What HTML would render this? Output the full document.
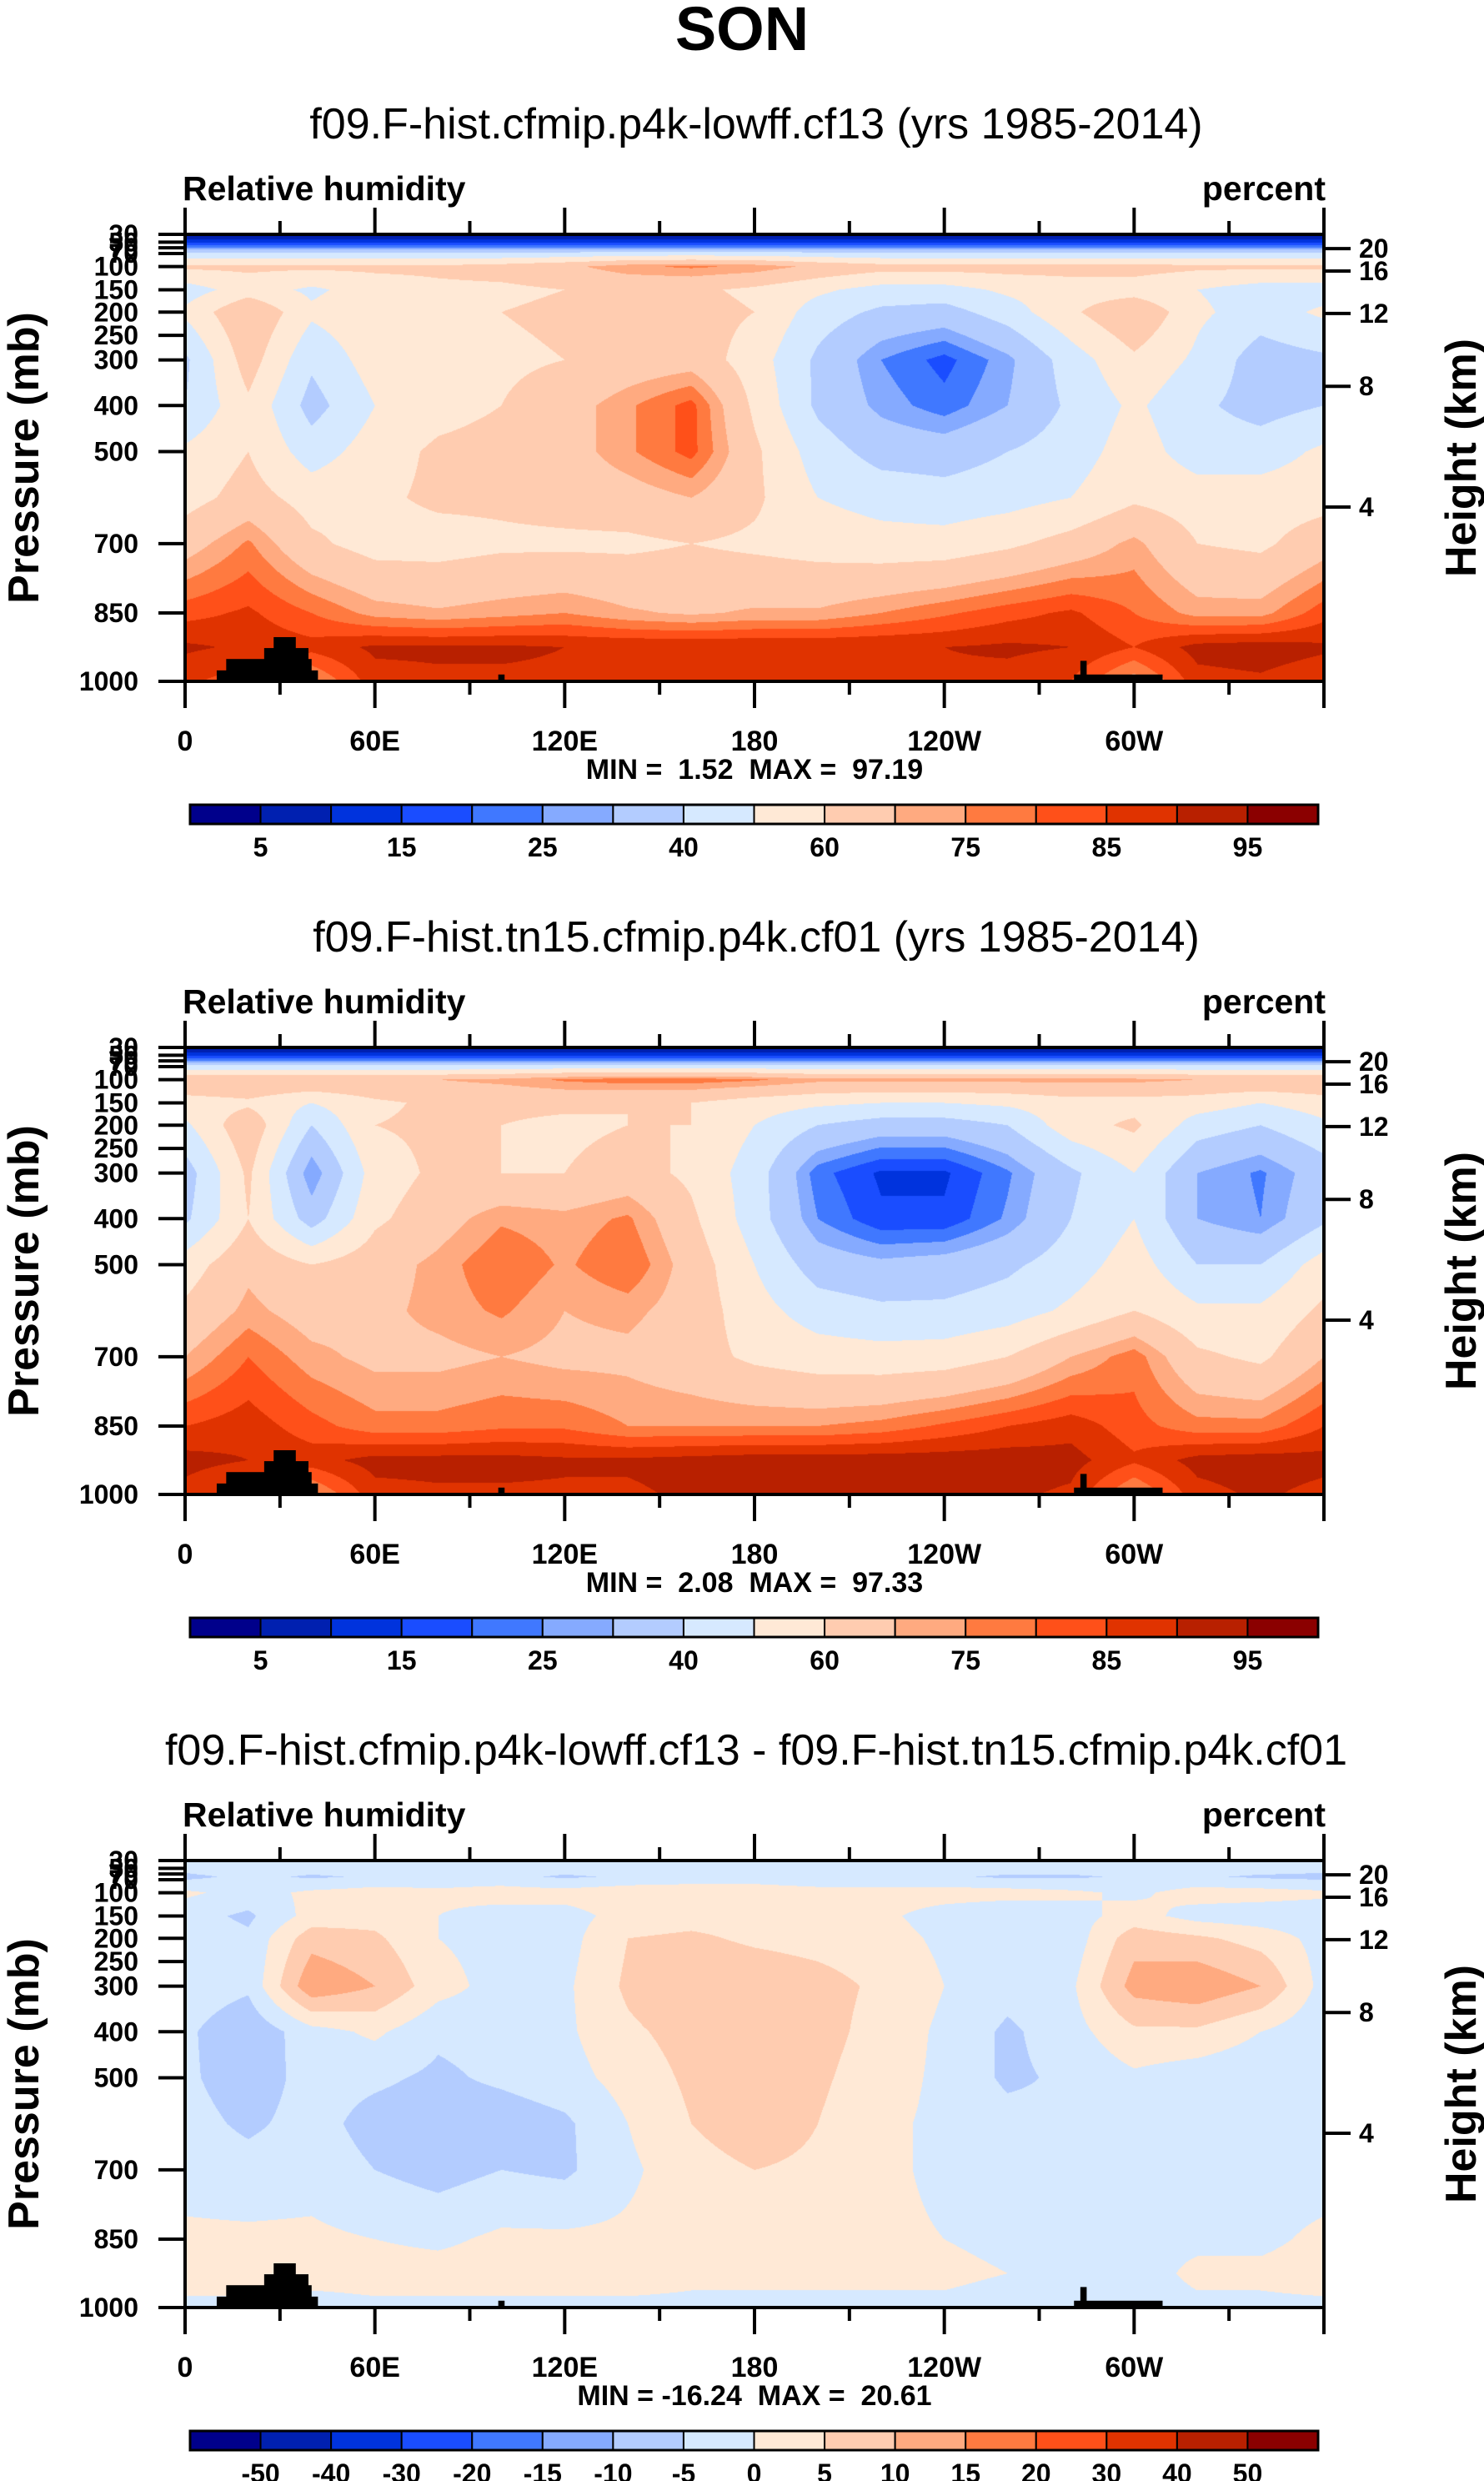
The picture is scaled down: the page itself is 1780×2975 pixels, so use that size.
<!DOCTYPE html>
<html><head><meta charset="utf-8">
<style>
body{margin:0;background:#fff;width:1780px;height:2975px;position:relative;overflow:hidden;font-family:"Liberation Sans",sans-serif;}
canvas{position:absolute;}
svg{position:absolute;left:0;top:0;}
text{white-space:pre;}
</style></head>
<body>
<canvas id="c1" width="1366" height="536" style="left:222px;top:281px"></canvas>
<canvas id="c2" width="1366" height="536" style="left:222px;top:1256px"></canvas>
<canvas id="c3" width="1366" height="536" style="left:222px;top:2231px"></canvas>
<svg id="ov" width="1780" height="2975"></svg>
<script>
const lons=[0,20,40,60,80,100,120,140,160,180,200,220,240,260,280,300,320,340,360];
const levels=[30,60,100,150,200,300,400,500,600,700,850,925,1000];
const rh1=[
[3,3,3,3,3,3,3,3,3,3,3,3,3,3,3,3,3,3,3],
[35,35,35,35,35,35,35,35,35,35,35,35,35,35,35,35,35,35,35],
[62,62,62,62,62,64,68,74,76,74,68,64,64,64,64,64,62,62,62],
[45,55,48,55,58,58,60,62,62,58,52,46,46,52,55,55,50,45,45],
[52,70,52,58,58,60,62,64,64,60,45,38,36,45,58,70,52,45,52],
[38,65,42,55,55,58,60,64,66,55,38,25,18,28,45,58,48,35,38],
[40,58,36,50,56,60,66,74,82,58,38,28,22,30,42,52,42,36,40],
[52,60,45,55,62,64,66,74,82,62,45,36,35,40,45,55,45,45,52],
[56,64,56,58,62,62,64,66,70,62,50,46,44,46,50,58,55,55,56],
[66,76,62,56,56,58,58,58,60,58,56,54,54,58,64,72,60,58,66],
[83,86,80,73,71,73,75,71,69,71,71,75,79,83,86,80,73,73,83],
[91,89,87,91,91,91,90,90,90,90,90,90,90,91,90,85,92,93,91],
[86,82,74,88,89,89,89,89,89,89,89,89,89,88,85,72,88,89,86]];
const rh2=[
[3,3,3,3,3,3,3,3,3,3,3,3,3,3,3,3,3,3,3],
[35,35,35,35,35,35,35,35,35,35,35,35,35,35,35,35,35,35,35],
[70,70,70,70,70,72,76,78,78,76,72,72,72,72,72,72,70,70,70],
[55,58,50,58,62,62,62,60,60,55,52,50,50,52,56,56,55,50,55],
[48,68,40,60,62,60,58,60,60,50,40,35,35,40,56,62,45,40,48],
[35,62,25,55,62,60,60,64,58,45,22,14,14,24,38,50,30,24,35],
[38,60,35,58,66,74,72,76,62,45,25,16,16,26,40,50,30,25,38],
[55,68,60,66,72,80,74,80,66,50,35,32,34,38,45,55,40,40,55],
[62,72,66,68,72,76,70,72,66,54,45,42,42,45,52,60,52,52,62],
[70,80,72,68,68,70,68,68,64,58,55,54,55,60,70,78,62,58,70],
[85,88,82,77,77,79,79,75,75,75,75,77,81,85,88,82,77,77,85],
[92,90,88,92,92,92,91,91,92,93,93,93,93,93,92,86,92,93,92],
[88,82,74,88,89,89,89,89,91,93,93,93,93,91,89,74,88,91,88]];
const rhDiff=[
[-2,-2,-2,-2,-2,-2,-2,-2,-2,-2,-2,-2,-2,-2,-2,-2,-2,-2,-2],
[-7,-3,-6,-4,-3,-3,-6,-4,-3,-3,-4,-4,-4,-6,-6,-4,-4,-6,-7],
[1,-2,1,2,1,2,2,3,3,3,2,2,2,2,1,-1,2,2,1],
[-3,-6,2,3,0,-2,-2,2,3,3,2,1,-2,-4,-2,2,-2,-3,-3],
[-2,-4,8,6,0,-2,-2,5,6,4,3,2,-1,-4,-3,8,6,3,-2],
[-2,-4,14,10,2,-2,-1,6,10,9,7,4,0,-3,-1,12,14,10,-2],
[-4,-9,-2,1,-4,-3,-1,4,7,10,7,3,-1,-6,-2,4,4,0,-4],
[-4,-8,-3,-4,-6,-4,-2,2,6,10,6,2,-1,-6,-4,-1,-3,-4,-4],
[-3,-6,-3,-7,-8,-8,-6,0,5,8,5,1,-1,-3,-4,-3,-3,-3,-3],
[-2,-3,-2,-5,-7,-5,-6,-1,3,5,4,1,-1,-2,-2,-2,-2,-2,-2],
[1,1,1,0,-1,1,1,1,2,2,2,1,0,-1,-1,-1,-1,-1,1],
[2,2,2,2,2,2,2,2,1,1,1,1,1,0,-1,-2,1,1,2],
[-1,-1,-2,-1,-1,-1,-1,-1,-1,-1,-1,-1,-1,-2,-4,-2,-1,-1,-1]];
const bounds1=[5,10,15,20,25,30,40,50,60,70,75,80,85,90,95];
const cbLabels1=["5","","15","","25","","40","","60","","75","","85","","95"];
const bounds3=[-50,-40,-30,-20,-15,-10,-5,0,5,10,15,20,30,40,50];
const cbLabels3=["-50","-40","-30","-20","-15","-10","-5","0","5","10","15","20","30","40","50"];
const topo=[[10,42,976],[13,40,951],[25,39,927],[28,35,903],[99,101,985],[281,309,985],[283,285,955]];
const pTicks=[30,40,50,70,100,150,200,250,300,400,500,700,850,1000];
const pTickLabels=["30","50","70","70","100","150","200","250","300","400","500","700","850","1000"];
const zTicks=[20,16,12,8,4];
const lonTicks=[0,60,120,180,240,300,360];
const lonLabels=["0","60E","120E","180","120W","60W",""];
const titles=["f09.F-hist.cfmip.p4k-lowff.cf13 (yrs 1985-2014)","f09.F-hist.tn15.cfmip.p4k.cf01 (yrs 1985-2014)","f09.F-hist.cfmip.p4k-lowff.cf13 - f09.F-hist.tn15.cfmip.p4k.cf01"];
const minmax=["MIN =  1.52  MAX =  97.19","MIN =  2.08  MAX =  97.33","MIN = -16.24  MAX =  20.61"];

const colors=["#00008b","#0020b0","#0033dd","#1a4dff","#4078ff","#85aaff","#b3ccff","#d6e9ff","#ffe9d6","#ffccb0","#ffaa80","#ff7a40","#ff5019","#e03300","#b82000","#8b0000"];
const knotP=[30,40,50,70,100,150,200,250,300,400,500,700,850,1000];
const knotF=[0,.0176,.030,.0428,.072,.124,.174,.226,.281,.383,.486,.692,.847,1];
const zF=[.032,.082,.177,.340,.610];
const PL=222,PW=1366,PH=536,PT=[281,1256,2231];

function pToF(p){for(let i=0;i<knotP.length-1;i++){if(p<=knotP[i+1]){return knotF[i]+(p-knotP[i])/(knotP[i+1]-knotP[i])*(knotF[i+1]-knotF[i]);}}return 1;}
function fToP(f){for(let i=0;i<knotF.length-1;i++){if(f<=knotF[i+1]){return knotP[i]+(f-knotF[i])/(knotF[i+1]-knotF[i])*(knotP[i+1]-knotP[i]);}}return 1000;}
function xOf(lon){return PL+lon/360*PW;}
function hex(c){return [parseInt(c.substr(1,2),16),parseInt(c.substr(3,2),16),parseInt(c.substr(5,2),16)];}
const rgb=colors.map(hex);
function colIdx(v,b){let k=0;while(k<b.length&&v>=b[k])k++;return k;}

function drawField(id,data,bounds){
  const cv=document.getElementById(id),ctx=cv.getContext('2d');
  const img=ctx.createImageData(PW,PH);
  for(let j=0;j<PH;j++){
    const p=fToP((j+.5)/PH);
    let r=0;while(r<levels.length-2&&p>levels[r+1])r++;
    const t=Math.max(0,Math.min(1,(p-levels[r])/(levels[r+1]-levels[r])));
    for(let i=0;i<PW;i++){
      const lon=(i+.5)/PW*360;
      let k=Math.min(lons.length-2,Math.floor(lon/20));
      const s=(lon-lons[k])/(lons[k+1]-lons[k]);
      const v=(1-t)*((1-s)*data[r][k]+s*data[r][k+1])+t*((1-s)*data[r+1][k]+s*data[r+1][k+1]);
      const c=rgb[colIdx(v,bounds)];
      const o=(j*PW+i)*4;img.data[o]=c[0];img.data[o+1]=c[1];img.data[o+2]=c[2];img.data[o+3]=255;
    }
  }
  ctx.putImageData(img,0,0);
}
drawField('c1',rh1,bounds1);
drawField('c2',rh2,bounds1);
drawField('c3',rhDiff,bounds3);

const NS="http://www.w3.org/2000/svg",ov=document.getElementById('ov');
function mk(tag,attrs,parent,txt){const e=document.createElementNS(NS,tag);for(const k in attrs)e.setAttribute(k,attrs[k]);if(txt!==undefined)e.textContent=txt;(parent||ov).appendChild(e);return e;}

let t0=mk('text',{x:890,y:60,'text-anchor':'middle','font-size':74,'font-weight':'bold','font-family':'Liberation Sans, sans-serif'},ov,'SON');



for(let pi=0;pi<3;pi++){
  const top=PT[pi],bot=top+PH,off=pi*975;
  const g=mk('g',{'font-family':'Liberation Sans, sans-serif','font-weight':'bold'});
  
  
  let e=mk('text',{x:907,y:166+off,'text-anchor':'middle','font-size':52,'font-weight':'normal'},g,titles[pi]);
  
  
  e=mk('text',{x:219,y:240+off,'font-size':41},g,'Relative humidity');
  
  
  e=mk('text',{x:1590,y:240+off,'text-anchor':'end','font-size':41},g,'percent');
  
  
  topo.forEach(s=>{
    const y=top+pToF(s[2])*PH;
    const r=mk('rect',{x:xOf(s[0]),y:y,width:xOf(s[1])-xOf(s[0]),height:bot-y,fill:'#000'},g);
    
    
  });
  e=mk('rect',{x:PL,y:top,width:PW,height:PH,fill:'none',stroke:'#000','stroke-width':4},g);
  
  
  pTicks.forEach((p,i)=>{
    const y=top+pToF(p)*PH;
    mk('line',{x1:PL-32,x2:PL,y1:y,y2:y,stroke:'#000','stroke-width':4},g);
    const l=mk('text',{x:166,y:y+11,'text-anchor':'end','font-size':32},g,pTickLabels[i]);
    
    
  });
  zTicks.forEach((z,i)=>{
    const y=top+zF[i]*PH;
    mk('line',{x1:PL+PW,x2:PL+PW+32,y1:y,y2:y,stroke:'#000','stroke-width':4},g);
    const l=mk('text',{x:1630,y:y+11,'font-size':32},g,String(z));
    
    
  });
  for(let lon=0;lon<=360;lon+=30){
    const x=xOf(lon),len=lon%60===0?32:16;
    mk('line',{x1:x,x2:x,y1:top-len,y2:top,stroke:'#000','stroke-width':4},g);
    mk('line',{x1:x,x2:x,y1:bot,y2:bot+len,stroke:'#000','stroke-width':4},g);
  }
  lonTicks.forEach((lon,i)=>{
    const l=mk('text',{x:xOf(lon),y:bot+83,'text-anchor':'middle','font-size':34},g,lonLabels[i]);
    
    
  });
  e=mk('text',{x:905,y:bot+117,'text-anchor':'middle','font-size':34},g,minmax[pi]);
  
  
  e=mk('text',{x:0,y:0,'text-anchor':'middle','font-size':52,transform:`translate(46,${top+PH/2}) rotate(-90)`},g,'Pressure (mb)');
  
  
  e=mk('text',{x:0,y:0,'text-anchor':'middle','font-size':52,transform:`translate(1770,${top+PH/2}) rotate(-90)`},g,'Height (km)');
  
  
  const cbx=228,cbw=1353,cby=965+off,cbh=23,bw=cbw/16;
  const labs=pi===2?cbLabels3:cbLabels1;
  for(let k=0;k<16;k++){
    const b=mk('rect',{x:cbx+k*bw,y:cby,width:bw,height:cbh,fill:colors[k],stroke:'#000','stroke-width':2},g);
    
    
  }
  mk('rect',{x:cbx,y:cby,width:cbw,height:cbh,fill:'none',stroke:'#000','stroke-width':3},g);
  labs.forEach((s,k)=>{
    if(!s)return;
    const l=mk('text',{x:cbx+(k+1)*bw,y:cby+62,'text-anchor':'middle','font-size':32},g,s);
    
    
  });
}
</script>
</body></html>
